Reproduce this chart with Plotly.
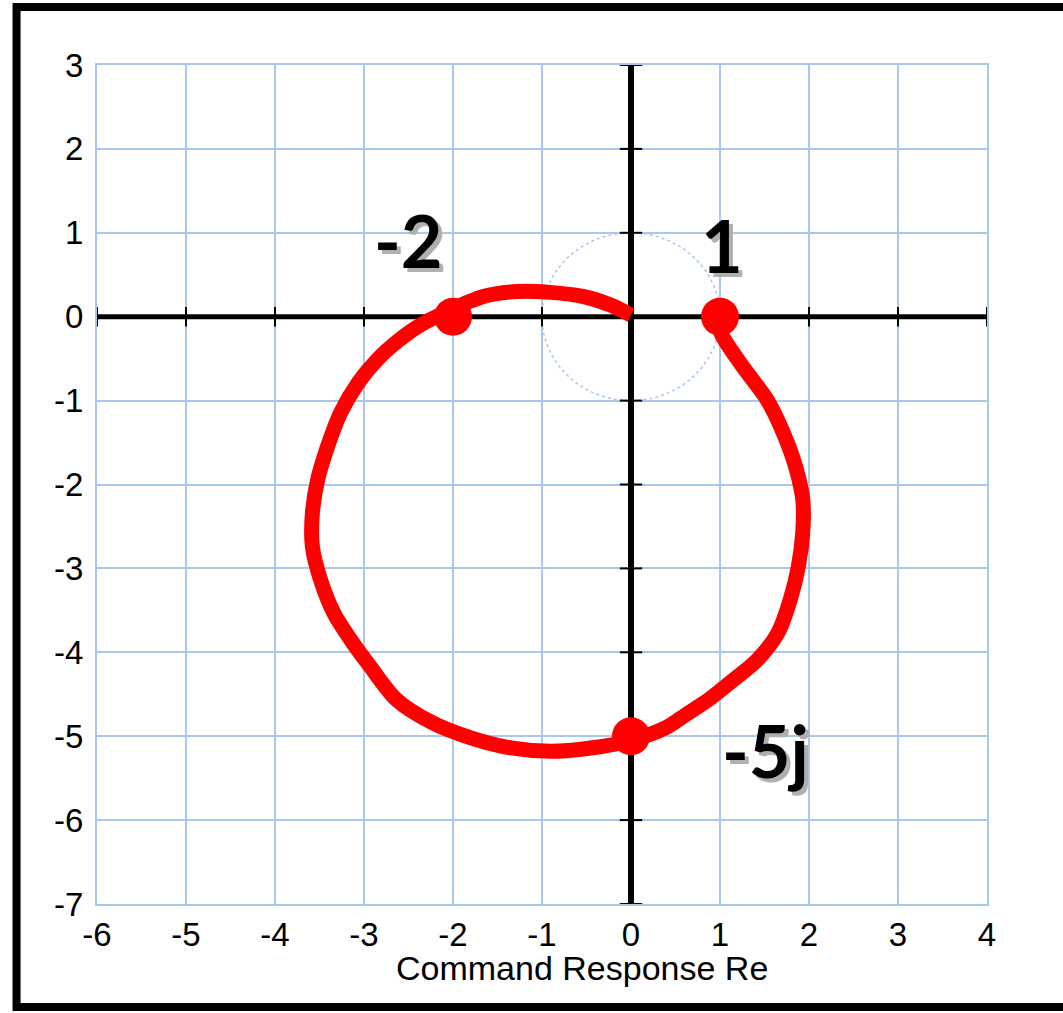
import plotly.graph_objects as go

# Nyquist-style locus of the command response (real vs imaginary part)
re_vals = [1.00, 1.01, 1.26, 1.53, 1.71, 1.85, 1.93, 1.93, 1.88, 1.79, 1.65, 1.42, 1.15,
           0.89, 0.62, 0.39, 0.00, -0.45, -0.90, -1.35, -1.80, -2.25, -2.64, -2.93,
           -3.15, -3.34, -3.49, -3.58, -3.58, -3.52, -3.41, -3.26, -3.06, -2.84, -2.62,
           -2.40, -2.03, -1.66, -1.28, -0.91, -0.53, -0.23, 0.00]
im_vals = [0.00, -0.19, -0.60, -0.99, -1.38, -1.79, -2.18, -2.57, -2.98, -3.37, -3.77,
           -4.09, -4.33, -4.55, -4.74, -4.90, -5.05, -5.14, -5.18, -5.14, -5.02, -4.83,
           -4.56, -4.17, -3.85, -3.53, -3.13, -2.74, -2.34, -1.94, -1.55, -1.14, -0.78,
           -0.50, -0.29, -0.12, 0.08, 0.24, 0.30, 0.29, 0.24, 0.14, 0.02]

# Highlighted crossing points and their labels
key_re = [1, -2, 0]
key_im = [0, 0, -5]
key_labels = ["1", "-2", "-5j"]
label_re = [1.02, -2.50, 1.51]
label_im = [0.86, 0.91, -5.17]

# Axis ranges and ticks
x_ticks = [-6, -5, -4, -3, -2, -1, 0, 1, 2, 3, 4]
y_ticks = [-7, -6, -5, -4, -3, -2, -1, 0, 1, 2, 3]
x_title = "Command Response Re"

GRID = "rgb(168,200,238)"
RED = "rgb(255,0,0)"

fig = go.Figure()

# Black coordinate axes through the origin
fig.add_trace(go.Scatter(x=[x_ticks[0] - 0.03, x_ticks[-1]], y=[0, 0], mode="lines",
                         line=dict(color="black", width=5), hoverinfo="skip"))
fig.add_trace(go.Scatter(x=[0, 0], y=[y_ticks[0], y_ticks[-1] + 0.11], mode="lines",
                         line=dict(color="black", width=6), hoverinfo="skip"))
# Small tick marks along the axes
fig.add_trace(go.Scatter(x=x_ticks, y=[0] * len(x_ticks), mode="markers",
                         marker=dict(symbol="line-ns", size=14, line=dict(color="black", width=2)),
                         hoverinfo="skip"))
fig.add_trace(go.Scatter(x=[0] * len(y_ticks), y=y_ticks, mode="markers",
                         marker=dict(symbol="line-ew", size=16, line=dict(color="black", width=2)),
                         hoverinfo="skip"))

# The response locus
fig.add_trace(go.Scatter(x=re_vals, y=im_vals, mode="lines",
                         line=dict(color=RED, width=15, shape="spline", smoothing=0.8),
                         hoverinfo="skip"))
fig.add_trace(go.Scatter(x=key_re, y=key_im, mode="markers",
                         marker=dict(color=RED, size=38, line=dict(width=0)),
                         hoverinfo="skip"))

# Unit circle (dotted)
fig.add_shape(type="circle", xref="x", yref="y", x0=-1, y0=-1, x1=1, y1=1,
              line=dict(color=GRID, width=1.5, dash="dot"), layer="below")

# Light drop shadow along the right and bottom edges of the plot area
fig.add_shape(type="rect", xref="x", yref="y", x0=4.0, x1=4.035, y0=-7.04, y1=3.03,
              line=dict(width=0), fillcolor="rgb(222,222,222)", layer="below")
fig.add_shape(type="rect", xref="x", yref="y", x0=-6.05, x1=4.035, y0=-7.04, y1=-7.0,
              line=dict(width=0), fillcolor="rgb(222,222,222)", layer="below")

# Heavy black frame around the page
fig.add_shape(type="rect", xref="paper", yref="paper",
              x0=-0.0904, x1=1.12, y0=-0.1228, y1=1.0691,
              line=dict(color="black", width=8), fillcolor="rgba(0,0,0,0)")

# Handwritten-style labels with a grey drop shadow
for t, xr, yi in zip(key_labels, label_re, label_im):
    fig.add_annotation(x=xr, y=yi, xref="x", yref="y", text=t, showarrow=False,
                       xanchor="center", yanchor="middle",
                       font=dict(family="Lato", size=72, color="black", weight="bold",
                                 shadow="4px 4px 0px rgb(175,175,175)"))

# Axis title, set slightly right of centre
fig.add_annotation(x=0.545, y=-0.0763, xref="paper", yref="paper", text=x_title,
                   showarrow=False, xanchor="center", yanchor="middle",
                   font=dict(family="Arial, Liberation Sans", size=34, color="black"))

axis_font = dict(family="Arial, Liberation Sans", size=33, color="black")
fig.update_xaxes(range=[-6, 4], tickvals=x_ticks, ticktext=[str(v) for v in x_ticks],
                 showgrid=True, gridcolor=GRID, gridwidth=2, zeroline=False,
                 showline=True, mirror=True, linecolor=GRID, linewidth=2,
                 ticks="", tickfont=axis_font, ticklabelstandoff=0)
fig.update_yaxes(range=[-7, 3], tickvals=y_ticks, ticktext=[str(v) for v in y_ticks],
                 showgrid=True, gridcolor=GRID, gridwidth=2, zeroline=False,
                 showline=True, mirror=True, linecolor=GRID, linewidth=2,
                 ticks="", tickfont=axis_font, ticklabelstandoff=5)

fig.update_layout(width=1063, height=1013, autosize=False,
                  margin=dict(l=97, r=76, t=65, b=109),
                  paper_bgcolor="white", plot_bgcolor="white",
                  showlegend=False)

fig.write_html("out.html")
